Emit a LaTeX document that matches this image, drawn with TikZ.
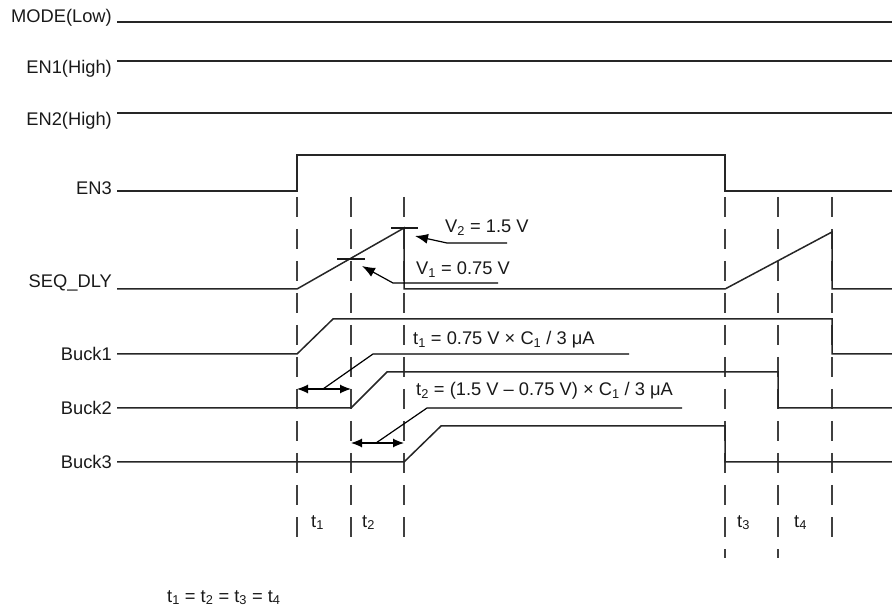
\documentclass[tikz,border=0pt]{standalone}
\usepackage{fontspec}
\setmainfont{Liberation Sans}
\usetikzlibrary{arrows.meta}
\newcommand\sbs[1]{\textsubscript{#1}}
\begin{document}
\begin{tikzpicture}[x=1pt,y=-1pt,
  sig/.style={line width=1.5pt,color=black!85,line join=miter},
  ramp/.style={line width=1.2pt,color=black!90},
  guide/.style={line width=1.5pt,color=black!75,dash pattern=on 20pt off 12pt},
  lbl/.style={font=\fontsize{18.3}{22}\selectfont,inner sep=0pt,anchor=base east,text=black!90},
  ann/.style={font=\fontsize{18.3}{22}\selectfont,inner sep=0pt,anchor=base west,text=black!90},
  lead/.style={line width=1.2pt,color=black},
  tipa/.style={-{Latex[length=13pt,width=10pt]}},
  dbl/.style={{Latex[length=11pt,width=9pt]}-{Latex[length=11pt,width=9pt]},line width=1.2pt},
  ]
\useasboundingbox (0,0) rectangle (892,609);

% signal labels
\node[lbl] (lmode) at (112,23) {MODE(Low)};
\node[lbl] (len1) at (112,74) {EN1(High)};
\node[lbl] (len2) at (112,126) {EN2(High)};
\node[lbl] (len3) at (112,195) {EN3};
\node[lbl] (lseq) at (112,288) {SEQ\_DLY};
\node[lbl] (lb1) at (112,361) {Buck1};
\node[lbl] (lb2) at (112,415) {Buck2};
\node[lbl] (lb3) at (112,469) {Buck3};

% guide lines
\foreach \x in {297,351,404,832} \draw[guide] (\x,197) -- (\x,537);
\foreach \x in {725,778} \draw[guide] (\x,197) -- (\x,558);

% waveforms
\draw[sig] (117,22) -- (892,22);
\draw[sig] (117,61) -- (892,61);
\draw[sig] (117,113) -- (892,113);
\draw[sig] (117,191) -- (297,191) -- (297,155) -- (725,155) -- (725,191) -- (892,191);
\draw[sig] (117,289) -- (297,289) -- (404,228) -- (404,289) -- (725,289) -- (832,232) -- (832,289) -- (892,289);
\draw[ramp] (391,228) -- (418,228);
\draw[ramp] (337,259) -- (365,259);
\draw[sig] (117,354) -- (297,354) -- (333,319) -- (832,319) -- (832,354) -- (892,354);
\draw[sig] (117,408) -- (351,408) -- (387,372) -- (778,372) -- (778,408) -- (892,408);
\draw[sig] (117,462) -- (404,462) -- (441,426) -- (725,426) -- (725,462) -- (892,462);

% voltage annotations
\node[ann] (v2) at (445,233) {V\sbs{2} = 1.5 V};
\node[ann] (v1) at (416,275) {V\sbs{1} = 0.75 V};
\coordinate (v2tip) at (415,236);
\coordinate (v1tip) at (362,266);
\draw[lead,tipa] (507,243) -- (447,243) -- (v2tip);
\draw[lead,tipa] (498,283) -- (393,283) -- (v1tip);

% time annotations
\node[ann] (ft1) at (413,345) {t\sbs{1} = 0.75 V × C\sbs{1} / 3 μA};
\node[ann] (ft2) at (416,396) {t\sbs{2} = (1.5 V – 0.75 V) × C\sbs{1} / 3 μA};
\coordinate (a1l) at (297,389);
\coordinate (a1r) at (351,389);
\coordinate (a2l) at (351,443);
\coordinate (a2r) at (404,443);
\draw[dbl] (a1l) -- (a1r);
\draw[dbl] (a2l) -- (a2r);
\draw[lead] (323,389) -- (373,354) -- (629,354);
\draw[lead] (376,443) -- (427,408) -- (682,408);

% interval labels
\node[ann] (t1) at (311,527) {t\sbs{1}};
\node[ann] (t2) at (362,527) {t\sbs{2}};
\node[ann] (t3) at (737,527) {t\sbs{3}};
\node[ann] (t4) at (794,527) {t\sbs{4}};
\node[ann] (eq) at (167,602) {t\sbs{1} = t\sbs{2} = t\sbs{3} = t\sbs{4}};
\end{tikzpicture}
\end{document}
